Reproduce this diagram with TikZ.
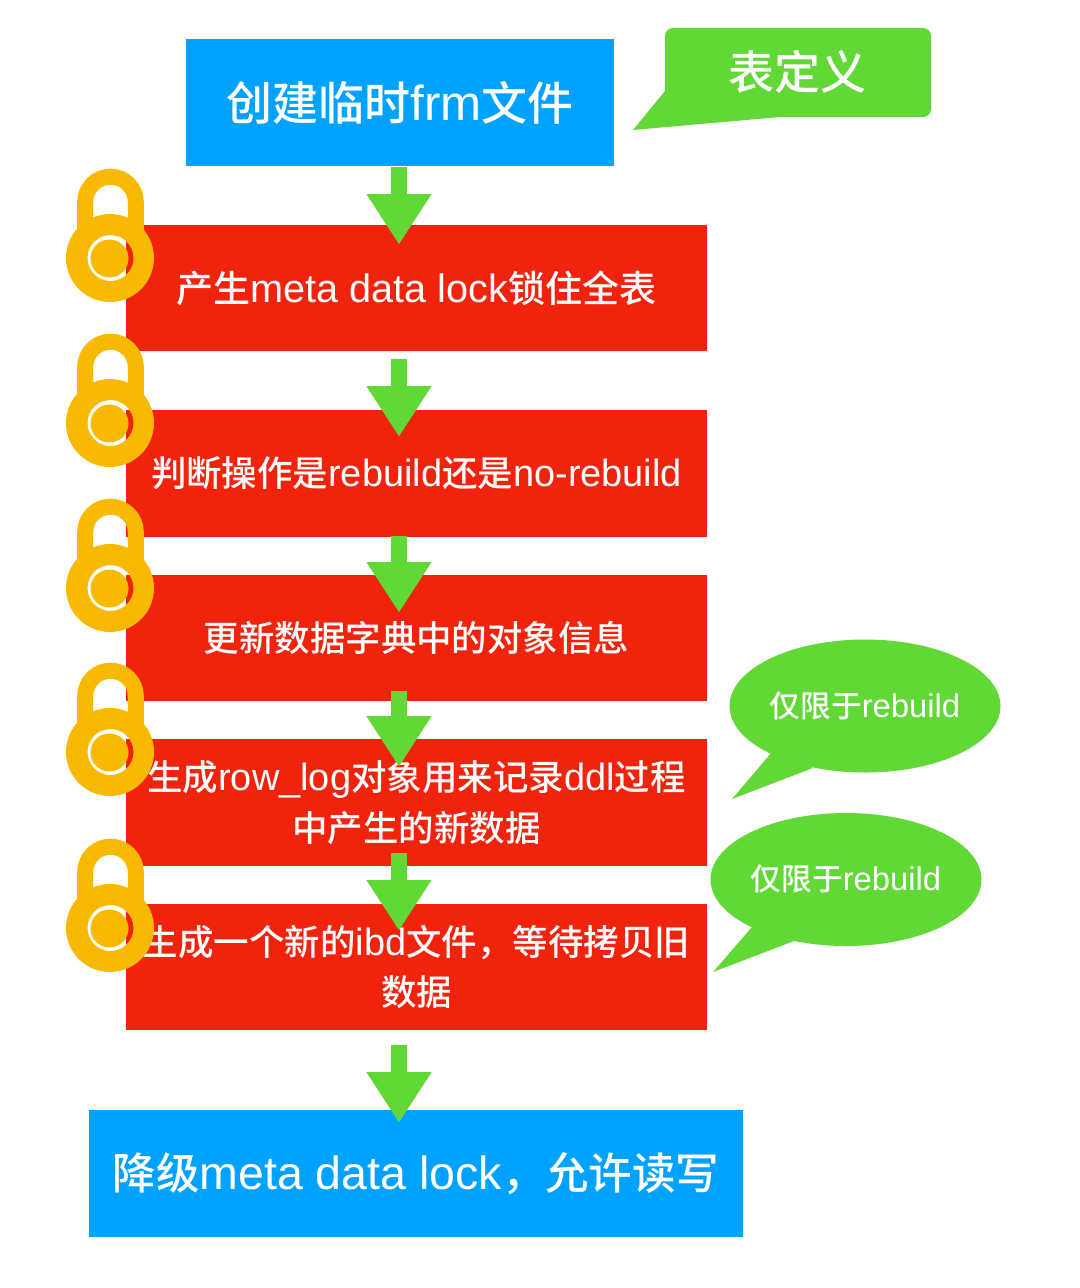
\documentclass[tikz,border=0pt]{standalone}
\usepackage{fontspec}
\setmainfont{Liberation Sans}[Scale=1.07]
\newfontfamily\cjk{Noto Sans CJK SC Medium}
\newcommand{\zh}[1]{{\cjk #1}}
\usetikzlibrary{arrows.meta}
\definecolor{stepblue}{HTML}{00A2FF}
\definecolor{stepred}{HTML}{F1230D}
\definecolor{flowgreen}{HTML}{61D836}
\definecolor{lockgold}{HTML}{F8BA00}
\tikzstyle{blueRect} = [rectangle, fill=stepblue, text=white, text centered, inner sep=0pt]
\tikzstyle{redRect} = [rectangle, fill=stepred, text=white, text centered, inner sep=0pt, minimum width=436pt, font=\fontsize{26.6}{38}\selectfont, align=center]
\tikzstyle{flow} = [-{Triangle[length=38pt,width=46pt]}, line width=12pt, draw=flowgreen]
\tikzstyle{note} = [fill=flowgreen, draw=none]
\tikzstyle{noteText} = [text=white, inner sep=0pt]

\begin{document}
\begin{tikzpicture}[x=0.75pt,y=-0.75pt]
        \useasboundingbox (0,0) rectangle (1080,1288);
        \coordinate (flowAxis) at (399,0);

        \node[blueRect,minimum width=321pt,minimum height=95pt,font=\fontsize{34.5}{40}\selectfont] (frm) at (400,102.5) {\zh{创建临时}frm\zh{文件}};
        \node[redRect,minimum height=94.5pt,font=\fontsize{27.8}{38}\selectfont] (meta) at (416.5,288) {\zh{产生}meta data lock\zh{锁住全表}};
        \node[redRect,minimum height=95pt] (judge) at (416.5,473.5) {\zh{判断操作是}rebuild\zh{还是}no-rebuild};
        \node[redRect,minimum height=94.5pt] (dict) at (416.5,638) {\zh{更新数据字典中的对象信息}};
        \node[redRect,minimum height=95pt] (rowlog) at (416.5,802.5) {\zh{生成}row\_log\zh{对象用来记录}ddl\zh{过程}\\\zh{中产生的新数据}};
        \node[redRect,minimum height=94.5pt] (ibd) at (416.5,967) {\zh{生成一个新的}ibd\zh{文件，等待拷贝旧}\\\zh{数据}};
        \node[blueRect,minimum width=490.5pt,minimum height=95pt,font=\fontsize{32.6}{40}\selectfont] (down) at (416,1173.5) {\zh{降级}meta data lock\zh{，允许读写}};

        % arrows, each one runs a little past the boxes
        \foreach \from/\to/\startgap/\endgap in {frm/meta/0.75pt/-15pt,meta/judge/6pt/-20.25pt,judge/dict/-0.75pt/-28.5pt,dict/rowlog/-7.5pt/-21pt,rowlog/ibd/-9.75pt/-20.25pt,ibd/down/11.25pt/-9.75pt}
        {\draw[flow,shorten <=\startgap,shorten >=\endgap] (\from.south -| flowAxis) -- (\to.north -| flowAxis);}

        % locks
        \foreach \ly in {258,423,588,752,928}
        {
        \draw[lockgold,line width=12pt] (85.2,\ly-20) -- (85.2,\ly-56) arc[start angle=180,end angle=360,radius=25.3] -- (135.8,\ly-20);
        \fill[lockgold,even odd rule] (110,\ly) circle[radius=44] (110.5,\ly) circle[radius=23];
        \fill[lockgold] (109.5,\ly+0.5) circle[radius=19];
        }

        % notes
        \fill[note] (633,130) -- (665,91) [rounded corners=6pt] -- (665,28) -- (931,28) -- (931,117) [sharp corners] -- (780,117) -- cycle;
        \node[noteText,font=\fontsize{34.5}{40}\selectfont] (defNote) at (797,72) {\zh{表定义}};
        \fill[note] (865,706) ellipse[x radius=135.5,y radius=66.5];
        \fill[note] (772,752) -- (732,799) -- (813,768) -- cycle;
        \node[noteText,font=\fontsize{23}{27}\selectfont] (noteA) at (865,706) {\zh{仅限于}rebuild};
        \fill[note] (846,879.5) ellipse[x radius=135.5,y radius=66.5];
        \fill[note] (752,927) -- (713,972) -- (794,941) -- cycle;
        \node[noteText,font=\fontsize{23}{27}\selectfont] (noteB) at (846,879) {\zh{仅限于}rebuild};
\end{tikzpicture}
\end{document}
